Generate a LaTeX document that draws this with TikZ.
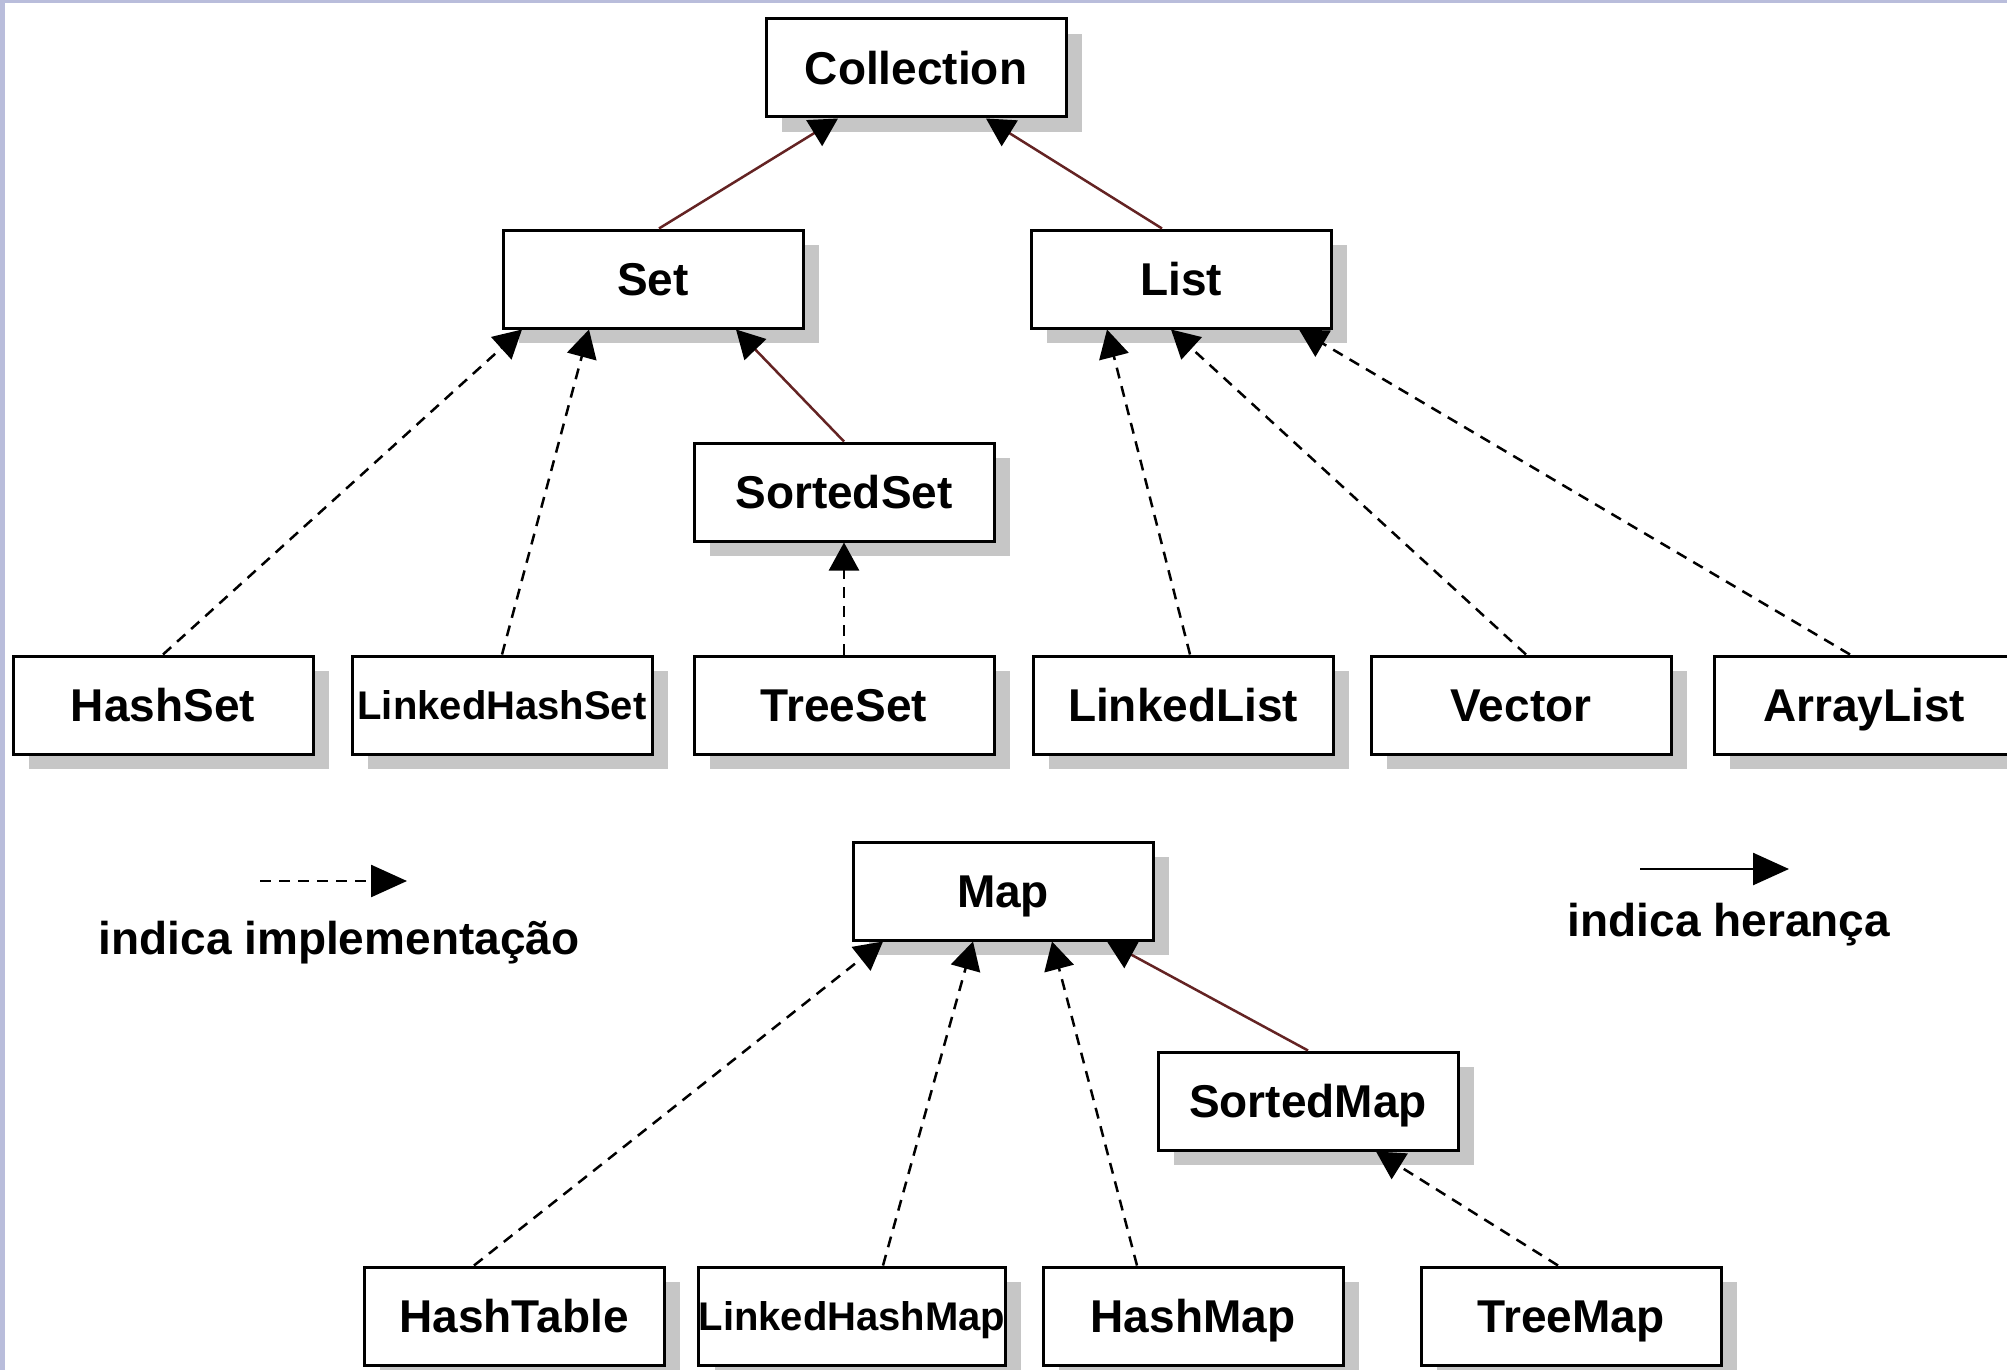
\documentclass[tikz,border=0pt]{standalone}
\usepackage{fontspec}
\setmainfont{Liberation Sans}
\usetikzlibrary{arrows.meta,shadows}

\definecolor{framelav}{RGB}{185,189,219}
\definecolor{boxshadow}{RGB}{198,198,198}
\definecolor{inhred}{RGB}{100,35,35}

\begin{document}
\begin{tikzpicture}[x=1pt, y=-1pt,
  cls/.style={draw=black, line width=3pt, fill=white, minimum width=300pt, minimum height=98pt, inner sep=0pt,
    font=\bfseries\fontsize{46}{55}\selectfont, text height=33pt, text depth=0pt,
    drop shadow={shadow xshift=16pt, shadow yshift=-15pt, fill=boxshadow, opacity=1}},
  smallcls/.style={cls, font=\bfseries\fontsize{40}{48}\selectfont, text height=29pt},
  impl/.style={draw=black, line width=2.5pt, dash pattern=on 11pt off 8pt, -{Triangle[length=28pt,width=30pt]}},
  inh/.style={draw=inhred, line width=2.5pt, -{Triangle[length=28pt,width=30pt,color=black]}},
  legtext/.style={font=\bfseries\fontsize{46}{55}\selectfont, text height=33pt, text depth=0pt, inner sep=0pt}]

\useasboundingbox (0,0) rectangle (2007,1370);
\clip (0,0) rectangle (2007,1370);
\fill[white] (0,0) rectangle (2007,1370);
\fill[framelav] (0,0) rectangle (2007,3);
\fill[framelav] (0,0) rectangle (5,1370);

\node[cls] (collection) at (916,68) {Collection};
\node[cls] (set) at (653,279) {Set};
\node[cls] (list) at (1181,279) {List};
\node[cls] (sortedset) at (844,492) {SortedSet};
\node[cls] (hashset) at (163,705) {HashSet};
\node[smallcls] (linkedhashset) at (502,705) {LinkedHashSet};
\node[cls] (treeset) at (844,705) {TreeSet};
\node[cls] (linkedlist) at (1183,705) {LinkedList};
\node[cls] (vector) at (1521,705) {Vector};
\node[cls] (arraylist) at (1864,705) {ArrayList};
\node[cls] (map) at (1003,891) {Map};
\node[cls] (sortedmap) at (1308,1101) {SortedMap};
\node[cls] (hashtable) at (514,1316) {HashTable};
\node[smallcls] (linkedhashmap) at (852,1316) {LinkedHashMap};
\node[cls] (hashmap) at (1193,1316) {HashMap};
\node[cls] (treemap) at (1571,1316) {TreeMap};

\draw[inh] ([xshift=6pt]set.north) -- ([xshift=-78pt]collection.south);
\draw[inh] ([xshift=-19pt]list.north) -- ([xshift=70pt]collection.south);
\draw[inh] (sortedset.north) -- ([xshift=83pt]set.south);
\draw[impl] (hashset.north) -- ([xshift=-131pt]set.south);
\draw[impl] (linkedhashset.north) -- ([xshift=-64pt]set.south);
\draw[impl] (treeset) -- (sortedset);
\draw[impl] ([xshift=7pt]linkedlist.north) -- ([xshift=-74pt]list.south);
\draw[impl] ([xshift=5pt]vector.north) -- ([xshift=-10pt]list.south);
\draw[impl] ([xshift=-14pt]arraylist.north) -- ([xshift=118pt]list.south);
\draw[impl] ([xshift=-40pt]hashtable.north) -- ([xshift=-120pt]map.south);
\draw[impl] ([xshift=31pt]linkedhashmap.north) -- ([xshift=-30pt]map.south);
\draw[impl] ([xshift=-56pt]hashmap.north) -- ([xshift=49pt]map.south);
\draw[inh] (sortedmap.north) -- ([xshift=104pt]map.south);
\draw[impl] ([xshift=-13pt]treemap.north) -- ([xshift=68pt]sortedmap.south);

\coordinate (implstart) at (260,881);
\coordinate (implend) at (407,881);
\draw[impl, -{Triangle[length=36pt,width=32pt]}] (implstart) -- (implend);
\node[legtext] (impllabel) at (339,938) {indica implementação};

\coordinate (inhstart) at (1640,869);
\coordinate (inhend) at (1789,869);
\draw[line width=2.5pt, -{Triangle[length=36pt,width=32pt]}] (inhstart) -- (inhend);
\node[legtext] (inhlabel) at (1729,920) {indica herança};
\end{tikzpicture}
\end{document}
